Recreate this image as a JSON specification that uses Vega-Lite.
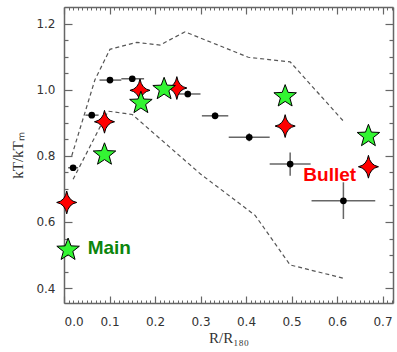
{
  "$schema": "https://vega.github.io/schema/vega-lite/v6.json",
  "width": 329,
  "height": 296,
  "autosize": {"type": "none"},
  "padding": {"left": 64, "top": 7, "right": 4, "bottom": 49},
  "background": "white",
  "datasets": {
    "envelope": [
      {"band": "upper", "r": 0.017, "kt": 0.80},
      {"band": "upper", "r": 0.068, "kt": 1.03},
      {"band": "upper", "r": 0.101, "kt": 1.122},
      {"band": "upper", "r": 0.160, "kt": 1.143},
      {"band": "upper", "r": 0.211, "kt": 1.135},
      {"band": "upper", "r": 0.266, "kt": 1.175},
      {"band": "upper", "r": 0.405, "kt": 1.098},
      {"band": "upper", "r": 0.497, "kt": 1.084},
      {"band": "upper", "r": 0.614, "kt": 0.905},
      {"band": "lower", "r": 0.020, "kt": 0.729},
      {"band": "lower", "r": 0.097, "kt": 0.935},
      {"band": "lower", "r": 0.150, "kt": 0.925},
      {"band": "lower", "r": 0.300, "kt": 0.745},
      {"band": "lower", "r": 0.420, "kt": 0.620},
      {"band": "lower", "r": 0.497, "kt": 0.470},
      {"band": "lower", "r": 0.614, "kt": 0.430}
    ],
    "profile": [
      {"r": 0.020, "rlo": 0.009, "rhi": 0.031, "kt": 0.764, "ktlo": 0.758, "kthi": 0.770},
      {"r": 0.061, "rlo": 0.047, "rhi": 0.076, "kt": 0.923, "ktlo": 0.918, "kthi": 0.928},
      {"r": 0.101, "rlo": 0.078, "rhi": 0.126, "kt": 1.029, "ktlo": 1.024, "kthi": 1.034},
      {"r": 0.150, "rlo": 0.126, "rhi": 0.176, "kt": 1.033, "ktlo": 1.028, "kthi": 1.038},
      {"r": 0.272, "rlo": 0.252, "rhi": 0.300, "kt": 0.987, "ktlo": 0.977, "kthi": 0.997},
      {"r": 0.332, "rlo": 0.303, "rhi": 0.361, "kt": 0.921, "ktlo": 0.911, "kthi": 0.931},
      {"r": 0.407, "rlo": 0.362, "rhi": 0.452, "kt": 0.856, "ktlo": 0.844, "kthi": 0.868},
      {"r": 0.497, "rlo": 0.452, "rhi": 0.542, "kt": 0.775, "ktlo": 0.740, "kthi": 0.810},
      {"r": 0.614, "rlo": 0.544, "rhi": 0.684, "kt": 0.664, "ktlo": 0.609, "kthi": 0.720}
    ],
    "bullet": [
      {"r": 0.006, "kt": 0.659},
      {"r": 0.089, "kt": 0.903},
      {"r": 0.167, "kt": 0.998},
      {"r": 0.248, "kt": 1.005},
      {"r": 0.486, "kt": 0.890},
      {"r": 0.669, "kt": 0.767}
    ],
    "main": [
      {"r": 0.009, "kt": 0.519},
      {"r": 0.089, "kt": 0.807},
      {"r": 0.169, "kt": 0.963},
      {"r": 0.220, "kt": 1.005},
      {"r": 0.486, "kt": 0.983},
      {"r": 0.669, "kt": 0.863}
    ],
    "names": [
      {"label": "Main", "r": 0.052, "kt": 0.52},
      {"label": "Bullet", "r": 0.526, "kt": 0.742}
    ]
  },
  "resolve": {"axis": {"x": "independent", "y": "independent"}},
  "layer": [
    {
      "data": {"name": "envelope"},
      "mark": {"type": "line", "color": "#555555", "strokeWidth": 1.2, "strokeDash": [4, 3]},
      "encoding": {
        "x": {
          "field": "r", "type": "quantitative",
          "scale": {"domain": [0, 0.723], "zero": false, "nice": false},
          "axis": {
            "orient": "bottom", "values": [0, 0.1, 0.2, 0.3, 0.4, 0.5, 0.6, 0.7], "grid": false,
            "format": ".1f", "tickSize": -7, "labelPadding": 20, "title": "R/R₁₈₀", "titlePadding": 3,
            "labelColor": "#333333", "labelFont": "DejaVu Sans", "labelFontSize": 12,
            "titleFont": "Liberation Serif", "titleFontSize": 15, "titleFontWeight": "normal", "titleColor": "#333333",
            "domain": true, "domainColor": "#666666", "domainWidth": 1.5, "tickColor": "#666666", "tickWidth": 1.2
          }
        },
        "y": {
          "field": "kt", "type": "quantitative",
          "scale": {"domain": [0.355, 1.25], "zero": false, "nice": false},
          "axis": {
            "orient": "left", "values": [0.4, 0.6, 0.8, 1.0, 1.2], "grid": false,
            "format": ".1f", "tickSize": -8, "labelPadding": 17, "title": "kT/kTₘ", "titlePadding": 10,
            "labelColor": "#333333", "labelFont": "DejaVu Sans", "labelFontSize": 12,
            "titleFont": "Liberation Serif", "titleFontSize": 15, "titleFontWeight": "normal", "titleColor": "#333333",
            "domain": true, "domainColor": "#666666", "domainWidth": 1.5, "tickColor": "#666666", "tickWidth": 1.2
          }
        },
        "detail": {"field": "band"}
      }
    },
    {
      "data": {"name": "profile"},
      "mark": {"type": "rule", "color": "#666666", "strokeWidth": 1.5},
      "encoding": {
        "x": {
          "field": "rlo", "type": "quantitative",
          "axis": {
            "orient": "bottom", "domain": false, "labels": false, "title": null, "tickSize": -3, "grid": false,
            "tickColor": "#666666", "tickWidth": 1,
            "values": [0.01,0.02,0.03,0.04,0.05,0.06,0.07,0.08,0.09,0.11,0.12,0.13,0.14,0.15,0.16,0.17,0.18,0.19,0.21,0.22,0.23,0.24,0.25,0.26,0.27,0.28,0.29,0.31,0.32,0.33,0.34,0.35,0.36,0.37,0.38,0.39,0.41,0.42,0.43,0.44,0.45,0.46,0.47,0.48,0.49,0.51,0.52,0.53,0.54,0.55,0.56,0.57,0.58,0.59,0.61,0.62,0.63,0.64,0.65,0.66,0.67,0.68,0.69,0.71,0.72]
          }
        },
        "x2": {"field": "rhi"},
        "y": {
          "field": "kt", "type": "quantitative",
          "axis": {
            "orient": "left", "domain": false, "labels": false, "title": null, "tickSize": -4, "grid": false,
            "tickColor": "#666666", "tickWidth": 1.2,
            "values": [0.45, 0.5, 0.55, 0.65, 0.7, 0.75, 0.85, 0.9, 0.95, 1.05, 1.1, 1.15]
          }
        }
      }
    },
    {
      "data": {"name": "profile"},
      "mark": {"type": "rule", "color": "#666666", "strokeWidth": 1.5},
      "encoding": {
        "x": {
          "field": "r", "type": "quantitative",
          "axis": {
            "orient": "top", "values": [0, 0.1, 0.2, 0.3, 0.4, 0.5, 0.6, 0.7], "grid": false,
            "labels": false, "title": null, "tickSize": -7,
            "domain": true, "domainColor": "#666666", "domainWidth": 1.5, "tickColor": "#666666", "tickWidth": 1.2
          }
        },
        "y": {
          "field": "ktlo", "type": "quantitative",
          "axis": {
            "orient": "right", "values": [0.4, 0.6, 0.8, 1.0, 1.2], "grid": false,
            "labels": false, "title": null, "tickSize": -8,
            "domain": true, "domainColor": "#666666", "domainWidth": 1.5, "tickColor": "#666666", "tickWidth": 1.2
          }
        },
        "y2": {"field": "kthi"}
      }
    },
    {
      "data": {"name": "profile"},
      "mark": {"type": "point", "shape": "circle", "filled": true, "color": "black", "opacity": 1, "size": 45},
      "encoding": {
        "x": {
          "field": "r", "type": "quantitative",
          "axis": {
            "orient": "top", "domain": false, "labels": false, "title": null, "tickSize": -3, "grid": false,
            "tickColor": "#666666", "tickWidth": 1,
            "values": [0.01,0.02,0.03,0.04,0.05,0.06,0.07,0.08,0.09,0.11,0.12,0.13,0.14,0.15,0.16,0.17,0.18,0.19,0.21,0.22,0.23,0.24,0.25,0.26,0.27,0.28,0.29,0.31,0.32,0.33,0.34,0.35,0.36,0.37,0.38,0.39,0.41,0.42,0.43,0.44,0.45,0.46,0.47,0.48,0.49,0.51,0.52,0.53,0.54,0.55,0.56,0.57,0.58,0.59,0.61,0.62,0.63,0.64,0.65,0.66,0.67,0.68,0.69,0.71,0.72]
          }
        },
        "y": {
          "field": "kt", "type": "quantitative",
          "axis": {
            "orient": "right", "domain": false, "labels": false, "title": null, "tickSize": -4, "grid": false,
            "tickColor": "#666666", "tickWidth": 1.2,
            "values": [0.45, 0.5, 0.55, 0.65, 0.7, 0.75, 0.85, 0.9, 0.95, 1.05, 1.1, 1.15]
          }
        }
      }
    },
    {
      "data": {"name": "bullet"},
      "mark": {
        "type": "point", "filled": true, "opacity": 1, "size": 520,
        "shape": "M0,-1Q0.14,-0.14 0.88,0Q0.14,0.14 0,1Q-0.14,0.14 -0.88,0Q-0.14,-0.14 0,-1Z",
        "fill": "#ff0000", "stroke": "black", "strokeWidth": 1
      },
      "encoding": {
        "x": {"field": "r", "type": "quantitative", "axis": null},
        "y": {"field": "kt", "type": "quantitative", "axis": null}
      }
    },
    {
      "data": {"name": "main"},
      "mark": {
        "type": "point", "filled": true, "opacity": 1, "size": 560,
        "shape": "M0,-0.905L0.247,-0.245L0.951,-0.214L0.399,0.225L0.588,0.904L0,0.515L-0.588,0.904L-0.399,0.225L-0.951,-0.214L-0.247,-0.245Z",
        "fill": "#33f533", "stroke": "black", "strokeWidth": 1
      },
      "encoding": {
        "x": {"field": "r", "type": "quantitative", "axis": null},
        "y": {"field": "kt", "type": "quantitative", "axis": null}
      }
    },
    {
      "data": {"name": "names"},
      "mark": {"type": "text", "font": "Liberation Sans", "fontSize": 19, "fontWeight": "bold", "baseline": "middle", "align": "left"},
      "encoding": {
        "x": {"field": "r", "type": "quantitative", "axis": null},
        "y": {"field": "kt", "type": "quantitative", "axis": null},
        "text": {"field": "label"},
        "color": {
          "field": "label", "type": "nominal",
          "scale": {"domain": ["Main", "Bullet"], "range": ["#0c850c", "#ff0000"]},
          "legend": null
        }
      }
    }
  ]
}
